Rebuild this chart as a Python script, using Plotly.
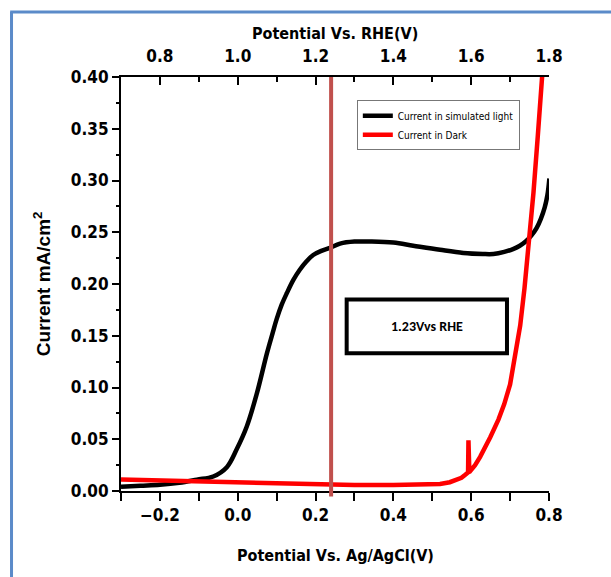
import plotly.graph_objects as go

# --- data ---
x_light = [-0.3, -0.25, -0.2, -0.15, -0.105, -0.063, -0.028, -0.003, 0.023, 0.049,
           0.075, 0.090, 0.100, 0.113, 0.126, 0.143, 0.160, 0.177, 0.194, 0.215,
           0.237, 0.263, 0.30, 0.34, 0.40, 0.451, 0.52, 0.58, 0.63, 0.657,
           0.685, 0.709, 0.725, 0.740, 0.755, 0.768, 0.779, 0.789, 0.796, 0.801]
y_light = [0.004, 0.005, 0.006, 0.008, 0.011, 0.014, 0.023, 0.040, 0.062, 0.094,
           0.133, 0.153, 0.166, 0.180, 0.191, 0.204, 0.214, 0.222, 0.228, 0.232,
           0.235, 0.239, 0.241, 0.241, 0.240, 0.237, 0.233, 0.230, 0.229, 0.229,
           0.231, 0.234, 0.237, 0.241, 0.247, 0.254, 0.263, 0.274, 0.286, 0.302]

x_dark = [-0.3, -0.2, -0.1, 0.0, 0.1, 0.2, 0.3, 0.4, 0.5, 0.52, 0.545, 0.563,
          0.575, 0.584, 0.592, 0.593, 0.595, 0.599, 0.61, 0.623, 0.636, 0.649,
          0.670, 0.685, 0.70, 0.713, 0.726, 0.737, 0.747, 0.76, 0.771, 0.782, 0.79]
y_dark = [0.011, 0.010, 0.009, 0.0085, 0.007, 0.006, 0.0058, 0.0058, 0.006, 0.0068,
          0.0085, 0.0106, 0.0128, 0.0155, 0.018, 0.049, 0.022, 0.020, 0.025, 0.033,
          0.042, 0.052, 0.069, 0.084, 0.103, 0.129, 0.160, 0.196, 0.234, 0.288,
          0.342, 0.40, 0.44]

x_ticks_agcl = [-0.2, 0.0, 0.2, 0.4, 0.6, 0.8]
x_ticks_rhe = [0.8, 1.0, 1.2, 1.4, 1.6, 1.8]
y_ticks = [0.00, 0.05, 0.10, 0.15, 0.20, 0.25, 0.30, 0.35, 0.40]
marker_potential = 0.24  # vs Ag/AgCl, i.e. 1.23 V vs RHE
box_label = "1.23Vvs RHE"

narrow = "Liberation Sans Narrow, Arial Narrow, DejaVu Sans Condensed, sans-serif"
tick_font = dict(family=narrow, size=17, color="black", weight="bold")

fig = go.Figure()
fig.add_trace(go.Scatter(x=x_light, y=y_light, mode="lines", name="Current in simulated light",
                         line=dict(color="black", width=4.5, shape="spline", smoothing=1.0)))
fig.add_trace(go.Scatter(x=x_dark, y=y_dark, mode="lines", name="Current in Dark",
                         line=dict(color="#ff0000", width=4.5)))
fig.add_trace(go.Scatter(x=[0.7, 1.8], y=[0.0, 0.0], xaxis="x2", mode="lines",
                         line=dict(color="rgba(0,0,0,0)", width=0),
                         showlegend=False, hoverinfo="skip"))

fig.update_layout(
    width=611, height=577,
    margin=dict(l=121, r=62, t=77, b=86),
    paper_bgcolor="white", plot_bgcolor="white",
    showlegend=True,
    legend=dict(x=0.551, y=0.944, xanchor="left", yanchor="top",
                bordercolor="#777777", borderwidth=1, bgcolor="white",
                font=dict(family=narrow, size=10, color="black"),
                itemwidth=30, tracegroupgap=0),
    xaxis=dict(range=[-0.3, 0.8], tickvals=x_ticks_agcl, tickformat=".1f", automargin=False,
               ticks="outside", ticklen=8, tickwidth=1.5, tickcolor="black",
               minor=dict(dtick=0.1, tick0=-0.3, ticks="outside", ticklen=8, tickwidth=1.5, tickcolor="black"),
               showline=True, linecolor="black", linewidth=2, showgrid=False, zeroline=False,
               tickfont=tick_font),
    xaxis2=dict(range=[0.7, 1.8], tickvals=x_ticks_rhe, tickformat=".1f", overlaying="x",
                side="top", ticks="inside", ticklen=8, tickwidth=1.5, tickcolor="black", automargin=False,
                minor=dict(dtick=0.1, tick0=0.7, ticks="inside", ticklen=5, tickwidth=1.5, tickcolor="black"),
                showline=True, linecolor="black", linewidth=2, showgrid=False, zeroline=False,
                ticklabelstandoff=6, tickfont=tick_font),
    yaxis=dict(range=[0, 0.4], tickvals=y_ticks, tickformat=".2f", automargin=False,
               ticks="outside", ticklen=7, tickwidth=1.5, tickcolor="black",
               minor=dict(dtick=0.025, tick0=0, ticks="outside", ticklen=3, tickwidth=1.5, tickcolor="black"),
               showline=True, linecolor="black", linewidth=2, showgrid=False, zeroline=False,
               tickfont=tick_font),
)

# vertical marker line at 1.23 V vs RHE
fig.add_shape(type="line", xref="x", yref="paper", x0=marker_potential, x1=marker_potential,
              y0=-0.013, y1=1.0, line=dict(color="#c0504d", width=4), layer="above")

# label box
fig.add_shape(type="rect", xref="x", yref="y", x0=0.280, x1=0.692, y0=0.133, y1=0.185,
              line=dict(color="black", width=4), fillcolor="white", layer="above")
fig.add_annotation(x=0.486, y=0.159, xref="x", yref="y", text="<b>" + box_label + "</b>",
                   showarrow=False, font=dict(family="Carlito, Lato, sans-serif", size=14, color="black"))

title_font = dict(family=narrow, size=16, color="black")
fig.add_annotation(x=0.5, y=1.106, xref="paper", yref="paper", text="<b>Potential Vs. RHE(V)</b>",
                   showarrow=False, font=title_font, xanchor="center", yanchor="middle")
fig.add_annotation(x=0.5, y=-0.155, xref="paper", yref="paper", text="<b>Potential Vs. Ag/AgCl(V)</b>",
                   showarrow=False, font=title_font, xanchor="center", yanchor="middle")
fig.add_annotation(x=-0.1846, y=0.502, xref="paper", yref="paper", text="<b>Current mA/cm<sup>2</sup></b>",
                   showarrow=False, textangle=-90, xanchor="center", yanchor="middle",
                   font=dict(family="Liberation Sans, Arial, sans-serif", size=19, color="black"))

# blue page frame
fig.add_shape(type="line", xref="paper", yref="paper", x0=-0.2558, x1=-0.2558, y0=1.157, y1=-0.21,
              line=dict(color="#5b8bc9", width=3))
fig.add_shape(type="line", xref="paper", yref="paper", x0=-0.259, x1=1.15, y0=1.157, y1=1.157,
              line=dict(color="#5b8bc9", width=3))

fig.write_html("out.html", config={"displayModeBar": False},
               post_script="document.body.style.margin='0px';document.body.style.overflow='hidden';")
